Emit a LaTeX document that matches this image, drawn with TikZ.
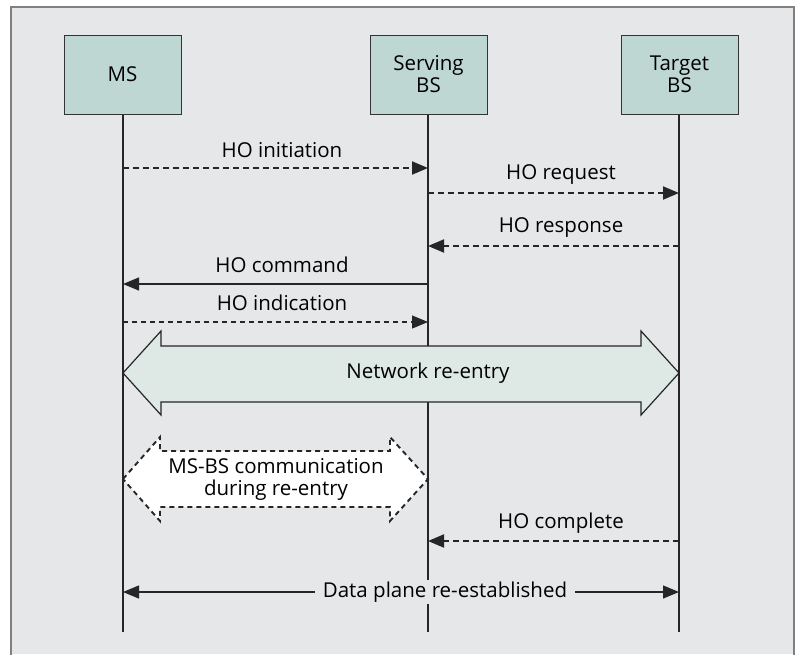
\documentclass[tikz,border=0pt]{standalone}
\usepackage{fontspec}
\setmainfont{Open Sans}
\usetikzlibrary{arrows.meta}
\definecolor{panel}{RGB}{230,231,233}
\definecolor{boxfill}{RGB}{190,215,211}
\definecolor{reentry}{RGB}{222,232,228}
\tikzset{
  entity/.style={draw=black!80, line width=1pt, fill=boxfill, minimum width=117pt,
    minimum height=79pt, align=center, font=\fontsize{20.5}{22}\selectfont},
  lifeline/.style={line width=1.2pt, black!85},
  msg/.style={line width=1.9pt, black!85, -{Triangle[length=16pt,width=13pt]}},
  dashmsg/.style={msg, dash pattern=on 6pt off 4pt},
  finemsg/.style={line width=1.1pt, black!85, dash pattern=on 5pt off 4pt,
    -{Triangle[length=16pt,width=13pt]}},
  lbl/.style={font=\fontsize{20.5}{22}\selectfont, align=center, inner sep=2pt},
}
\begin{document}
\begin{tikzpicture}[x=1pt, y=-1pt]
  \useasboundingbox (0,0) rectangle (797,654);
  % frame
  \fill[panel] (11,7) rectangle (794,654);
  \draw[gray, line width=1.2pt] (11,660) -- (11,7) -- (794,7) -- (794,660);
  % entities
  \node[entity] (ms) at (122.5,74.5) {MS};
  \node[entity] (sbs) at (428.5,74.5) {Serving\\BS};
  \node[entity] (tbs) at (679.5,74.5) {Target\\BS};
  \coordinate (msend) at (123,632);
  \coordinate (sbsend) at (428,632);
  \coordinate (tbsend) at (679,632);
  \draw[lifeline] (ms.south -| msend) -- (msend);
  \draw[lifeline] (sbs.south -| sbsend) -- (sbsend);
  \draw[lifeline] (tbs.south -| tbsend) -- (tbsend);
  % network re-entry
  \draw[black!85, line width=1.2pt, fill=reentry]
    (123,373) -- (161,331) -- (161,346) -- (641,346) -- (641,331) -- (679,373)
    -- (641,415) -- (641,402) -- (161,402) -- (161,415) -- cycle;
  \node[lbl] (net) at (428,373) {Network re-entry};
  % MS-BS communication
  \draw[black!85, line width=1.9pt, dash pattern=on 5pt off 4pt, fill=white]
    (123,479) -- (160,437) -- (160,451) -- (390,451) -- (390,437) -- (428,479)
    -- (390,521) -- (390,507) -- (160,507) -- (160,521) -- cycle;
  \node[lbl] (comm) at (276,479) {MS-BS communication\\during re-entry};
  % messages
  \coordinate (a1) at (123,168); \coordinate (a2) at (428,168);
  \coordinate (b1) at (428,193); \coordinate (b2) at (679,193);
  \coordinate (c1) at (679,246); \coordinate (c2) at (428,246);
  \coordinate (d1) at (428,284); \coordinate (d2) at (123,284);
  \coordinate (e1) at (123,322); \coordinate (e2) at (428,322);
  \coordinate (f1) at (679,541); \coordinate (f2) at (428,541);
  \coordinate (g1) at (123,592); \coordinate (g2) at (679,592);
  \draw[dashmsg] (a1) -- (a2);
  \draw[dashmsg] (b1) -- (b2);
  \draw[dashmsg] (c1) -- (c2);
  \draw[msg, line width=1.2pt] (d1) -- (d2);
  \draw[finemsg] (e1) -- (e2);
  \draw[dashmsg] (f1) -- (f2);
  \draw[msg, line width=1.2pt, {Triangle[length=16pt,width=13pt]}-{Triangle[length=16pt,width=13pt]}] (g1) -- (g2);
  \node[lbl] (init) at (282,150) {HO initiation};
  \node[lbl] (req) at (561,175) {HO request};
  \node[lbl] (resp) at (561,228) {HO response};
  \node[lbl] (cmd) at (282,265) {HO command};
  \node[lbl] (ind) at (282,303) {HO indication};
  \node[lbl] (cpl) at (561,523) {HO complete};
  \node[lbl, fill=panel, inner xsep=8pt] (data) at (445,592) {Data plane re-established};
\end{tikzpicture}
\end{document}
